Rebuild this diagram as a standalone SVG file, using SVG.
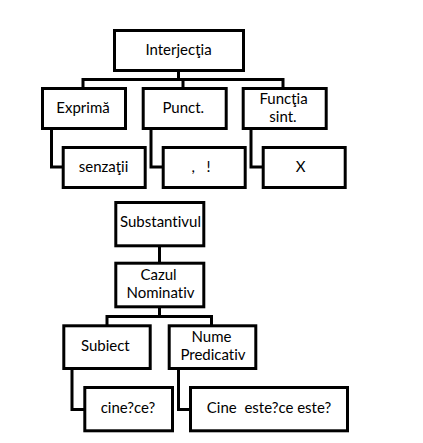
<svg xmlns="http://www.w3.org/2000/svg" width="423" height="443" viewBox="0 0 423 443">
<style>
.box{fill:#fff;stroke:#000;stroke-width:3}
.ln{fill:none;stroke:#000;stroke-width:3;stroke-linejoin:miter;stroke-linecap:butt}
text{font-family:Lato,"Open Sans",sans-serif;font-size:15px;fill:#000;text-anchor:middle;white-space:pre;font-variant-ligatures:none}
</style>
<rect width="423" height="443" fill="#fff"/>
<g id="connectors">
<path class="ln" d="M178.5 71 V79.5 M83 88.5 V79.5 H283 V88.5 M183 79.5 V88.5"/>
<path class="ln" d="M51.5 130 V167 H63.5 M151 130 V167 H163.5 M251 130 V167 H263.5"/>
<path class="ln" d="M159.5 247 V262.5 M159.5 308 V316.5 M107 325.5 V316.5 H211.5 V325.5"/>
<path class="ln" d="M72 370 V409.5 H85 M178.5 370 V409.5 H190.5"/>
</g>
<g id="interjectia"><rect class="box" x="114.5" y="30.5" width="129" height="40"/><text x="178.5" y="55">Interjecţia</text></g>
<g id="exprima"><rect class="box" x="42.5" y="88.5" width="83" height="40"/><text x="83" y="113">Exprimă</text></g>
<g id="punct"><rect class="box" x="143.2" y="88.5" width="83" height="40"/><text x="183.3" y="113">Punct.</text></g>
<g id="functia"><rect class="box" x="243.2" y="88.5" width="83" height="40"/><text x="283.5" y="103.5">Funcţia</text><text x="283" y="122">sint.</text></g>
<g id="senzatii"><rect class="box" x="63.2" y="147.5" width="82" height="40"/><text x="103.5" y="172">senzaţii</text></g>
<g id="semne"><rect class="box" x="163.2" y="147.5" width="82" height="40"/><text x="201" y="172">,   !</text></g>
<g id="x"><rect class="box" x="263.2" y="147.5" width="82" height="40"/><text x="300.7" y="172">X</text></g>
<g id="substantivul"><rect class="box" x="115.8" y="202.5" width="88" height="43.3"/><text x="160.5" y="227.3">Substantivul</text></g>
<g id="cazul"><rect class="box" x="115.8" y="263.2" width="88" height="43.6"/><text x="158.5" y="280">Cazul</text><text x="160.5" y="297.7">Nominativ</text></g>
<g id="subiect"><rect class="box" x="63.8" y="325.8" width="86.4" height="42.7"/><text x="105.3" y="351">Subiect</text></g>
<g id="nume"><rect class="box" x="169.2" y="325.8" width="86.6" height="42.7"/><text x="211.5" y="342">Nume</text><text x="213" y="359.5">Predicativ</text></g>
<g id="cinece"><rect class="box" x="84.8" y="387.5" width="87.7" height="43.3"/><text x="128" y="412.5">cine?ce?</text></g>
<g id="cineeste"><rect class="box" x="190.5" y="387.5" width="157" height="43.3"/><text x="269" y="412.5">Cine  este?ce este?</text></g>
</svg>
